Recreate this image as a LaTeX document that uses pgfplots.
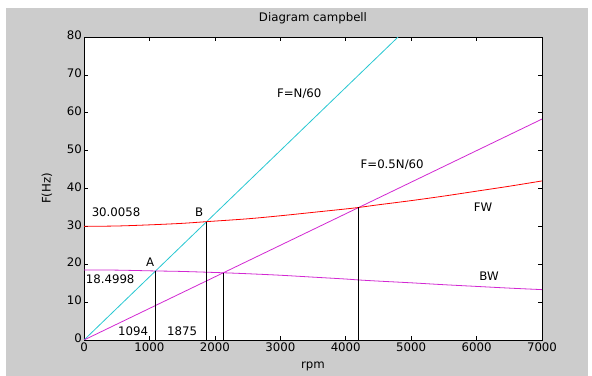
\documentclass[border=0pt]{standalone}
\usepackage{pgfplots}
\pgfplotsset{compat=1.18}
\usepackage{fontspec}
\setmainfont{DejaVu Sans}
\definecolor{figgrey}{RGB}{204,204,204}
\definecolor{mcyan}{RGB}{40,200,210}
\definecolor{mmag}{RGB}{210,40,210}
\definecolor{mred}{RGB}{255,0,0}
\newcommand{\ff}{\fontsize{11.8}{13}\selectfont}
\begin{document}
\begin{tikzpicture}
\fill[white] (-84bp,-36bp) rectangle (508bp,340bp);
\fill[figgrey] (-78bp,-36bp) rectangle (504bp,332bp);
\begin{axis}[
  at={(0,0)}, anchor=south west,
  scale only axis, width=458bp, height=303bp,
  xmin=0, xmax=7000, ymin=0, ymax=80,
  xtick={0,1000,...,7000}, ytick={0,10,...,80},
  scaled x ticks=false,
  /pgf/number format/set thousands separator={},
  /pgf/number format/assume math mode=true,
  tick align=inside, major tick length=4bp,
  axis background/.style={fill=white},
  axis line style={line width=0.8bp},
  every tick/.style={black, line width=0.6bp},
  tick label style={font=\ff},
  xticklabel style={anchor=base, yshift=-11bp, inner sep=0pt},
  yticklabel style={anchor=mid east, inner sep=0pt, xshift=-2bp},
  title={Diagram campbell},
  title style={font=\ff, at={(axis description cs:0.5,1)}, anchor=base, yshift=10bp},
  xlabel={rpm},
  xlabel style={font=\ff, at={(axis description cs:0.5,-0.0957)}, anchor=base},
  ylabel={F(Hz)},
  ylabel style={font=\ff, at={(axis description cs:-0.0808,0.5)}, anchor=center},
  clip=true,
]
% F = N/60
\addplot[mcyan, line width=0.8bp] coordinates {(0,0) (4800,80)};
% F = 0.5N/60
\addplot[mmag, line width=0.8bp] coordinates {(0,0) (7000,58.33)};
% FW
\addplot[mred, line width=0.8bp, smooth] coordinates {
(0,30.0058) (500,30.1) (1000,30.4) (1500,30.8) (1875,31.25) (2500,32.0)
(3000,32.8) (3500,33.7) (4000,34.6) (4200,35.0) (4500,35.7) (5000,36.8)
(5500,38.0) (6000,39.3) (6500,40.6) (7000,42.0)};
% BW
\addplot[mmag, line width=0.8bp, smooth] coordinates {
(0,18.4998) (500,18.45) (1094,18.23) (1500,18.1) (2130,17.75) (2500,17.5)
(3000,17.1) (3500,16.6) (4000,16.1) (4200,15.85) (4500,15.55) (5000,15.1)
(5500,14.6) (6000,14.15) (6500,13.7) (7000,13.3)};
% vertical markers
\addplot[black, line width=0.8bp] coordinates {(1094,0) (1094,18.23)};
\addplot[black, line width=0.8bp] coordinates {(1875,0) (1875,31.25)};
\addplot[black, line width=0.8bp] coordinates {(2130,0) (2130,17.75)};
\addplot[black, line width=0.8bp] coordinates {(4200,0) (4200,35.0)};
% labels
\node[font=\ff] at (axis cs:3290,65) {F=N/60};
\node[font=\ff] at (axis cs:4710,46.4) {F=0.5N/60};
\node[font=\ff] at (axis cs:6100,35.1) {FW};
\node[font=\ff] at (axis cs:6190,16.9) {BW};
\node[font=\ff] at (axis cs:490,33.8) {30.0058};
\node[font=\ff] at (axis cs:1760,33.8) {B};
\node[font=\ff] at (axis cs:1010,20.6) {A};
\node[font=\ff] at (axis cs:400,16.1) {18.4998};
\node[font=\ff] at (axis cs:750,2.4) {1094};
\node[font=\ff] at (axis cs:1500,2.4) {1875};
\end{axis}
\end{tikzpicture}
\end{document}
